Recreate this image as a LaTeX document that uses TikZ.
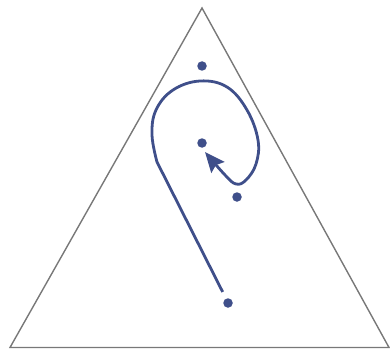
\documentclass[tikz,border=0pt]{standalone}
\usepackage{xcolor}
\usepackage{tikz}
\usetikzlibrary{arrows.meta}
\definecolor{pathblue}{RGB}{63,79,138}
\definecolor{edgegray}{RGB}{120,120,120}

\begin{document}
\begin{tikzpicture}[x=1pt,y=-1pt,
  dot/.style={circle,fill=pathblue,inner sep=0pt,minimum size=9.5pt},
  route/.style={pathblue,line width=2.8pt,line join=round}]
\useasboundingbox (0,0) rectangle (390,350);
\draw[edgegray,line width=1.4pt,line join=miter] (202,8) -- (10,347.5) -- (389,347.5) -- cycle;
\foreach \nm/\x/\y in {top/202/66, mid/202/143, right/237/197, low/228/303} {
\node[dot] (\nm) at (\x,\y) {};
 }
\coordinate (start) at (222.7,292);
\coordinate (bend) at (157,162);
\draw[route,-{Stealth[length=20pt,width=17pt,inset=3pt]}] (start) -- (bend)
  -- plot[smooth,tension=0.65] coordinates {(157,162) (152,135) (156,110) (173,90) (200,81) (227,87) (247,110) (258,140) (256,164) (246,180) (236,184) (225,175) (205,152)};
\end{tikzpicture}
\end{document}
